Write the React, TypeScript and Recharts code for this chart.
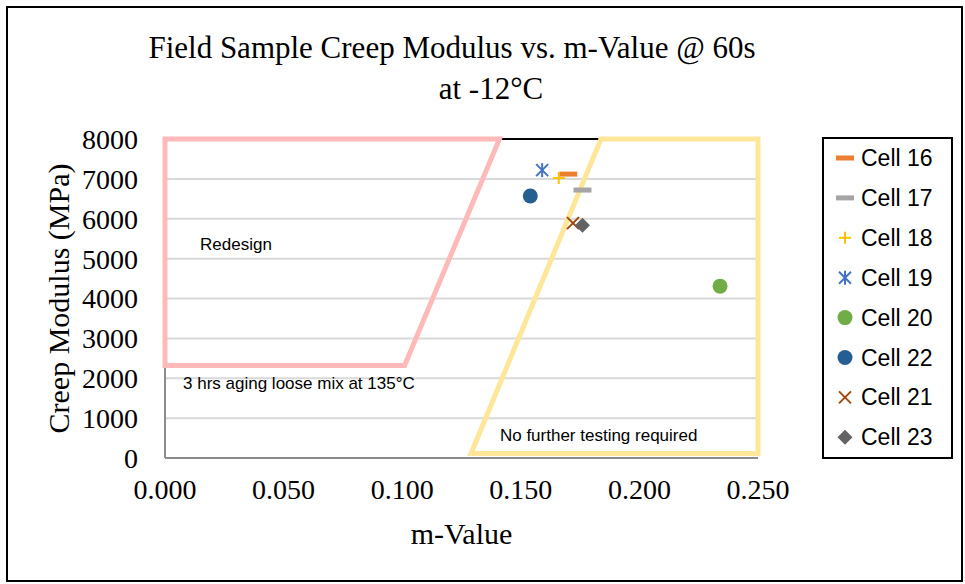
import { ScatterChart, Scatter, XAxis, YAxis, CartesianGrid, ReferenceLine, ReferenceDot, Customized } from 'recharts';

// axis ticks
const xTicks = [0, 0.05, 0.1, 0.15, 0.2, 0.25];
const yTicks = [0, 1000, 2000, 3000, 4000, 5000, 6000, 7000, 8000];

// one point per cell (m-value, creep modulus in MPa)
const cell16 = [{ m: 0.170, e: 7120 }];
const cell17 = [{ m: 0.176, e: 6720 }];
const cell18 = [{ m: 0.166, e: 7020 }];
const cell19 = [{ m: 0.159, e: 7220 }];
const cell20 = [{ m: 0.234, e: 4310 }];
const cell22 = [{ m: 0.154, e: 6570 }];
const cell21 = [{ m: 0.172, e: 5890 }];
const cell23 = [{ m: 0.176, e: 5840 }];

// outlined zones (closed paths, first corner repeated so the joins close)
const redesignZone = [
  { m: 0, e: 2320 }, { m: 0, e: 8000 }, { m: 0.141, e: 8000 }, { m: 0.101, e: 2320 },
  { m: 0, e: 2320 }, { m: 0, e: 8000 },
];
const noTestZone = [
  { m: 0.129, e: 110 }, { m: 0.1838, e: 8000 }, { m: 0.25, e: 8000 }, { m: 0.25, e: 110 },
  { m: 0.129, e: 110 }, { m: 0.1838, e: 8000 },
];

type Kind = 'dash' | 'plus' | 'star' | 'circle' | 'x' | 'diamond';

const series = [
  { name: 'Cell 16', data: cell16, kind: 'dash' as Kind, color: '#ED7D31' },
  { name: 'Cell 17', data: cell17, kind: 'dash' as Kind, color: '#A5A5A5' },
  { name: 'Cell 18', data: cell18, kind: 'plus' as Kind, color: '#FFC000' },
  { name: 'Cell 19', data: cell19, kind: 'star' as Kind, color: '#4472C4' },
  { name: 'Cell 20', data: cell20, kind: 'circle' as Kind, color: '#70AD47' },
  { name: 'Cell 22', data: cell22, kind: 'circle' as Kind, color: '#255E91' },
  { name: 'Cell 21', data: cell21, kind: 'x' as Kind, color: '#9E480E' },
  { name: 'Cell 23', data: cell23, kind: 'diamond' as Kind, color: '#636363' },
];

const serif = '"Liberation Serif", "Times New Roman", serif';
const sans = '"Liberation Sans", Arial, sans-serif';

function marker(kind: Kind, cx: number, cy: number, color: string) {
  switch (kind) {
    case 'dash':
      return <rect x={cx - 9} y={cy - 2.5} width={18} height={5} fill={color} />;
    case 'plus':
      return (
        <g stroke={color} strokeWidth={2}>
          <line x1={cx - 6} y1={cy} x2={cx + 6} y2={cy} />
          <line x1={cx} y1={cy - 6} x2={cx} y2={cy + 6} />
        </g>
      );
    case 'star':
      return (
        <g stroke={color} strokeWidth={2}>
          <line x1={cx} y1={cy - 7} x2={cx} y2={cy + 7} />
          <line x1={cx - 6} y1={cy - 6} x2={cx + 6} y2={cy + 6} />
          <line x1={cx - 6} y1={cy + 6} x2={cx + 6} y2={cy - 6} />
        </g>
      );
    case 'circle':
      return <circle cx={cx} cy={cy} r={7.5} fill={color} />;
    case 'x':
      return (
        <g stroke={color} strokeWidth={2}>
          <line x1={cx - 6} y1={cy - 6} x2={cx + 6} y2={cy + 6} />
          <line x1={cx - 6} y1={cy + 6} x2={cx + 6} y2={cy - 6} />
        </g>
      );
    case 'diamond':
      return <polygon points={`${cx},${cy - 7.5} ${cx + 7.5},${cy} ${cx},${cy + 7.5} ${cx - 7.5},${cy}`} fill={color} />;
  }
}

const Decorations = () => (
  <g>
    <rect x={7} y={7} width={955} height={574} fill="none" stroke="#000" strokeWidth={2} />
    <text x={452} y={58} textAnchor="middle" fontFamily={serif} fontSize={31} fill="#000">
      Field Sample Creep Modulus vs. m-Value @ 60s
    </text>
    <text x={491} y={99} textAnchor="middle" fontFamily={serif} fontSize={31} fill="#000">
      at -12°C
    </text>
    <rect x={823} y={138} width={129} height={320} fill="#fff" stroke="#000" strokeWidth={2} />
    {series.map((s, i) => {
      const cy = 158 + i * 39.9;
      return (
        <g key={s.name}>
          {marker(s.kind, 845, cy, s.color)}
          <text x={861} y={cy + 8} fontFamily={sans} fontSize={23} fill="#000">
            {s.name}
          </text>
        </g>
      );
    })}
  </g>
);

const noShape = () => <g />;

const note = (text: string) => (p: any) => (
  <text x={p.cx} y={p.cy} fontFamily={sans} fontSize={17} fill="#000">
    {text}
  </text>
);

export default function App() {
  return (
    <div style={{ position: 'absolute', left: 0, top: 0, width: 965, height: 584, background: '#fff' }}>
      <ScatterChart width={965} height={584} margin={{ top: 139, right: 207, bottom: 36, left: 40 }}>
        <CartesianGrid vertical={false} stroke="#D9D9D9" strokeWidth={2} />
        <XAxis
          type="number"
          dataKey="m"
          domain={[0, 0.25]}
          ticks={xTicks}
          tickFormatter={(v: number) => v.toFixed(3)}
          height={90}
          tickSize={0}
          tickMargin={21}
          axisLine={{ stroke: '#8C8C8C', strokeWidth: 2 }}
          tick={{ fill: '#000', fontFamily: serif, fontSize: 28 }}
          label={{ value: 'm-Value', position: 'insideBottom', offset: 4, fill: '#000', fontFamily: serif, fontSize: 30 }}
        />
        <YAxis
          type="number"
          dataKey="e"
          domain={[0, 8000]}
          ticks={yTicks}
          width={125}
          tickSize={0}
          tickMargin={27}
          axisLine={{ stroke: '#8C8C8C', strokeWidth: 2 }}
          tick={{ fill: '#000', fontFamily: serif, fontSize: 28 }}
          label={{
            value: 'Creep Modulus (MPa)',
            angle: -90,
            position: 'insideLeft',
            offset: 18,
            fill: '#000',
            fontFamily: serif,
            fontSize: 30,
            style: { textAnchor: 'middle' },
          }}
        />
        <ReferenceLine y={8000} stroke="#000" strokeWidth={2} />
        <Scatter data={redesignZone} line={{ stroke: '#FFB9B9', strokeWidth: 5 }} shape={noShape} isAnimationActive={false} />
        <Scatter data={noTestZone} line={{ stroke: '#FFE699', strokeWidth: 5 }} shape={noShape} isAnimationActive={false} />
        <ReferenceDot x={0.0148} y={5210} shape={note('Redesign')} />
        <ReferenceDot x={0.0076} y={1730} shape={note('3 hrs aging loose mix at 135°C')} />
        <ReferenceDot x={0.1412} y={430} shape={note('No further testing required')} />
        {series.map((s) => (
          <Scatter
            key={s.name}
            name={s.name}
            data={s.data}
            isAnimationActive={false}
            shape={(p: any) => marker(s.kind, p.cx, p.cy, s.color)}
          />
        ))}
        <Customized component={Decorations} />
      </ScatterChart>
    </div>
  );
}
